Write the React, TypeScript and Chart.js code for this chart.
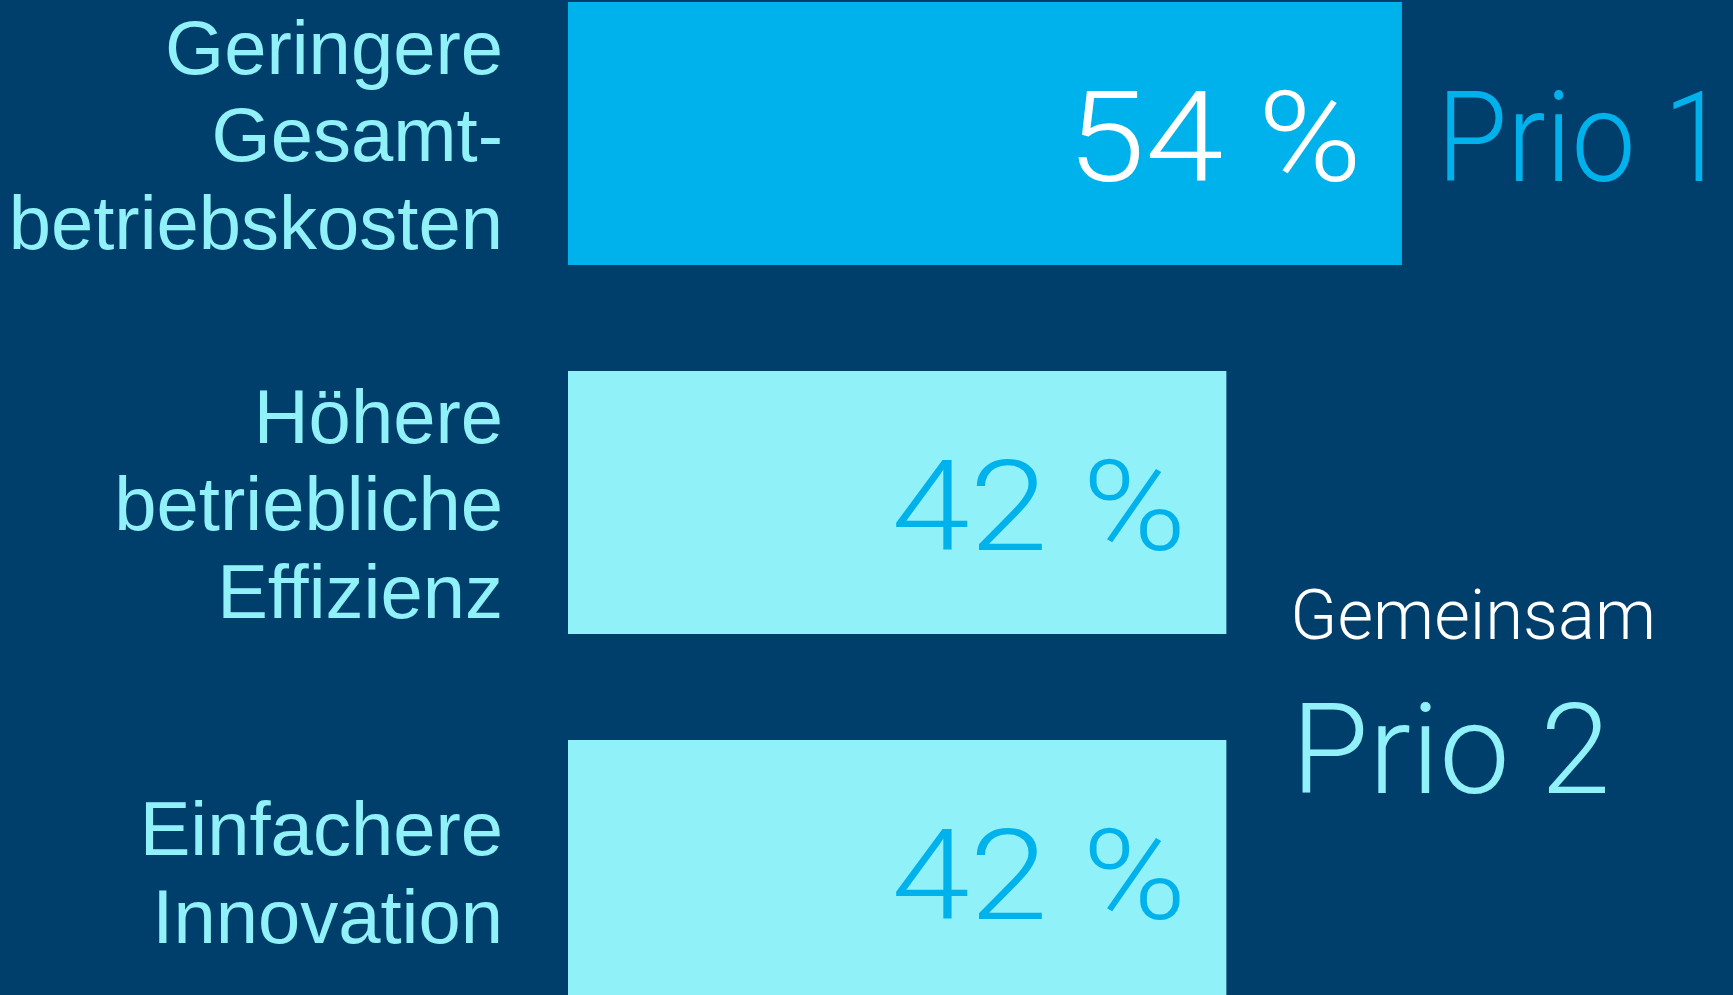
import React, { useEffect, useRef } from "react";
import { Chart, registerables } from "chart.js";

Chart.register(...registerables);

// ---- data ----
const categories: string[][] = [
  ["Geringere", "Gesamt-", "betriebskosten"],
  ["Höhere", "betriebliche", "Effizienz"],
  ["Einfachere", "Innovation"],
];
const values: number[] = [54, 42, 42];
const valueSuffix = " %";
const prio1Label = "Prio 1";
const sharedLabel = "Gemeinsam";
const prio2Label = "Prio 2";

// ---- styles ----
const BG = "#003E6C";
const DARK_CYAN = "#00B2EB";
const LIGHT_CYAN = "#91F1F8";
const barColors = [DARK_CYAN, LIGHT_CYAN, LIGHT_CYAN];
const valueColors = ["#FFFFFF", DARK_CYAN, DARK_CYAN];
const LABEL_FONT = '76px "Liberation Sans", Arial, sans-serif';
const BIG_FONT = '300 127px Roboto, "Liberation Sans", sans-serif';
const MID_FONT = '300 71px Roboto, "Liberation Sans", sans-serif';

function drawStretched(
  ctx: CanvasRenderingContext2D,
  text: string,
  x: number,
  y: number,
  align: CanvasTextAlign,
  sx: number
) {
  ctx.save();
  ctx.translate(x, y);
  ctx.scale(sx, 1);
  ctx.textAlign = align;
  ctx.textBaseline = "alphabetic";
  ctx.fillText(text, 0, 0);
  ctx.restore();
}

const labelPlugin = {
  id: "customLabels",
  afterDatasetsDraw(chart: any) {
    const ctx = chart.ctx as CanvasRenderingContext2D;
    const meta = chart.getDatasetMeta(0);
    const left = chart.chartArea.left;
    ctx.save();
    // category labels (left)
    ctx.font = LABEL_FONT;
    ctx.fillStyle = LIGHT_CYAN;
    ctx.textAlign = "right";
    ctx.textBaseline = "alphabetic";
    const lh = 87.5;
    const capHalf = 27.5;
    categories.forEach((lines, i) => {
      const cy = meta.data[i].y;
      const n = lines.length;
      lines.forEach((line, j) => {
        const y = cy + (j - (n - 1) / 2) * lh + capHalf;
        ctx.fillText(line, left - 65, y);
      });
    });
    // value labels inside bars
    ctx.font = BIG_FONT;
    values.forEach((v, i) => {
      const bar = meta.data[i];
      ctx.fillStyle = valueColors[i];
      drawStretched(ctx, `${v}${valueSuffix}`, bar.x - 40, bar.y + 47, "right", 1.11);
    });
    // Prio 1
    const b0 = meta.data[0];
    ctx.fillStyle = DARK_CYAN;
    drawStretched(ctx, prio1Label, b0.x + 35, b0.y + 47.5, "left", 0.9);
    // Gemeinsam / Prio 2
    const b1 = meta.data[1];
    const b2 = meta.data[2];
    const midY = (b1.y + b2.y) / 2;
    const xr = Math.max(b1.x, b2.x);
    ctx.font = MID_FONT;
    ctx.fillStyle = "#FFFFFF";
    drawStretched(ctx, sharedLabel, xr + 64, midY - 48, "left", 0.97);
    ctx.font = BIG_FONT;
    ctx.fillStyle = LIGHT_CYAN;
    drawStretched(ctx, prio2Label, xr + 65, midY + 106, "left", 0.99);
    ctx.restore();
  },
};

export default function App() {
  const ref = useRef<HTMLCanvasElement | null>(null);
  useEffect(() => {
    if (!ref.current) return;
    const chart = new Chart(ref.current, {
      type: "bar",
      data: {
        labels: categories.map((c) => c.join(" ")),
        datasets: [
          {
            data: values,
            backgroundColor: barColors,
            borderWidth: 0,
            base: -3,
            barPercentage: 0.7127,
            categoryPercentage: 1,
          } as any,
        ],
      },
      options: {
        indexAxis: "y",
        animation: false,
        responsive: false,
        maintainAspectRatio: false,
        layout: { padding: { left: 568, right: 0, top: 0, bottom: 0 } },
        plugins: {
          legend: { display: false },
          tooltip: { enabled: false },
          title: { display: false },
        },
        scales: {
          x: { type: "linear", min: -3, max: 76.63, display: false },
          y: { type: "category", display: false, offset: true },
        },
      },
      plugins: [labelPlugin],
    });
    return () => chart.destroy();
  }, []);

  return (
    <div
      style={{
        position: "fixed",
        left: 0,
        top: 0,
        width: 1733,
        height: 995,
        background: BG,
        overflow: "hidden",
      }}
    >
      <canvas
        ref={ref}
        width={1733}
        height={1107}
        style={{ position: "absolute", left: 0, top: -51, width: 1733, height: 1107 }}
      />
    </div>
  );
}
